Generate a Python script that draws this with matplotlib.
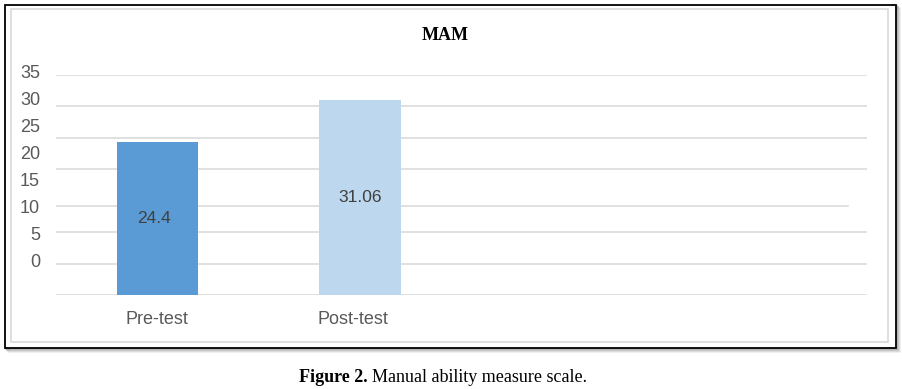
import matplotlib
matplotlib.use("Agg")
import matplotlib.pyplot as plt
from matplotlib.patches import Rectangle

# data
categories = ["Pre-test", "Post-test"]
values = [24.4, 31.06]
value_labels = ["24.4", "31.06"]
bar_colors = ["#5B9BD5", "#BDD7EE"]
ytick_values = [0, 5, 10, 15, 20, 25, 30, 35]
title = "MAM"
caption_bold = "Figure 2."
caption_rest = "Manual ability measure scale."

W, H = 902, 389
fig = plt.figure(figsize=(W / 100, H / 100), dpi=100)
fig.patch.set_facecolor("white")

def fx(x):
    return x / W

def fy(y):
    return 1 - y / H

# outer frame with soft shadow
for i, a in enumerate([0.08, 0.14, 0.22, 0.3]):
    off = 4 - i
    fig.patches.append(Rectangle((fx(5 + off), fy(348 + off)), fx(891), 343 / H,
                                 transform=fig.transFigure, facecolor="none",
                                 edgecolor="#606060", alpha=a, lw=1.5, zorder=-3))
fig.patches.append(Rectangle((fx(5), fy(348)), fx(891), 343 / H, transform=fig.transFigure,
                             facecolor="white", edgecolor="black", lw=1.3, zorder=-2))
fig.patches.append(Rectangle((fx(11), fy(342)), fx(877), 333 / H, transform=fig.transFigure,
                             facecolor="none", edgecolor="#d9d9d9", lw=1.2, zorder=-1))

# plot area
left, right, top, bottom = 55.7, 867, 75, 295.3
ax = fig.add_axes([fx(left), fy(bottom), (right - left) / W, (bottom - top) / H])
ax.set_zorder(5)
ax.set_facecolor("none")
ax.set_xlim(-0.5, 3.5)
ax.set_ylim(0, 35)
for s in ax.spines.values():
    s.set_visible(False)
ax.set_yticks([])
ax.set_xticks([])

# gridlines (the 15 line is drawn slightly low and short in the original)
for g in ytick_values:
    if g == 15:
        ax.axhline(14.25, xmin=0, xmax=(848 - left) / (right - left), color="#d9d9d9", lw=1.1, zorder=0)
    else:
        ax.axhline(g, color="#d9d9d9", lw=1.1, zorder=0)

x = list(range(len(categories)))
ax.bar(x, values, width=0.4, color=bar_colors, zorder=2)

# value labels at bar centre
for i, (v, lab) in enumerate(zip(values, value_labels)):
    ax.text(i - 0.015 * (i == 0), v / 2, lab, ha="center", va="center",
            fontsize=12.5, color="#404040", family="Liberation Sans", zorder=3)

# y tick labels (offset scale in the original image)
ytr = ax.get_yaxis_transform()
for v in ytick_values:
    ax.text((40 - left) / (right - left), 5.21 + 0.859 * v, str(v), transform=ytr,
            ha="right", va="center", fontsize=13, color="#595959", family="Liberation Sans",
            clip_on=False)

# category labels
xtr = ax.get_xaxis_transform()
for i, c in enumerate(categories):
    ax.text(i - 0.036 * i, -(319.3 - bottom) / (bottom - top), c, transform=xtr,
            ha="center", va="center", fontsize=13, color="#595959", family="Liberation Sans",
            clip_on=False)

fig.text(fx(445), fy(36), title, ha="center", va="center", fontsize=13,
         fontweight="bold", family="Liberation Serif", zorder=5)

fig.text(fx(368), fy(377), caption_bold, ha="right", va="center", fontsize=13,
         fontweight="bold", family="Liberation Serif")
fig.text(fx(372.5), fy(377), caption_rest, ha="left", va="center", fontsize=13,
         family="Liberation Serif")

fig.savefig("out.png", dpi=100)
